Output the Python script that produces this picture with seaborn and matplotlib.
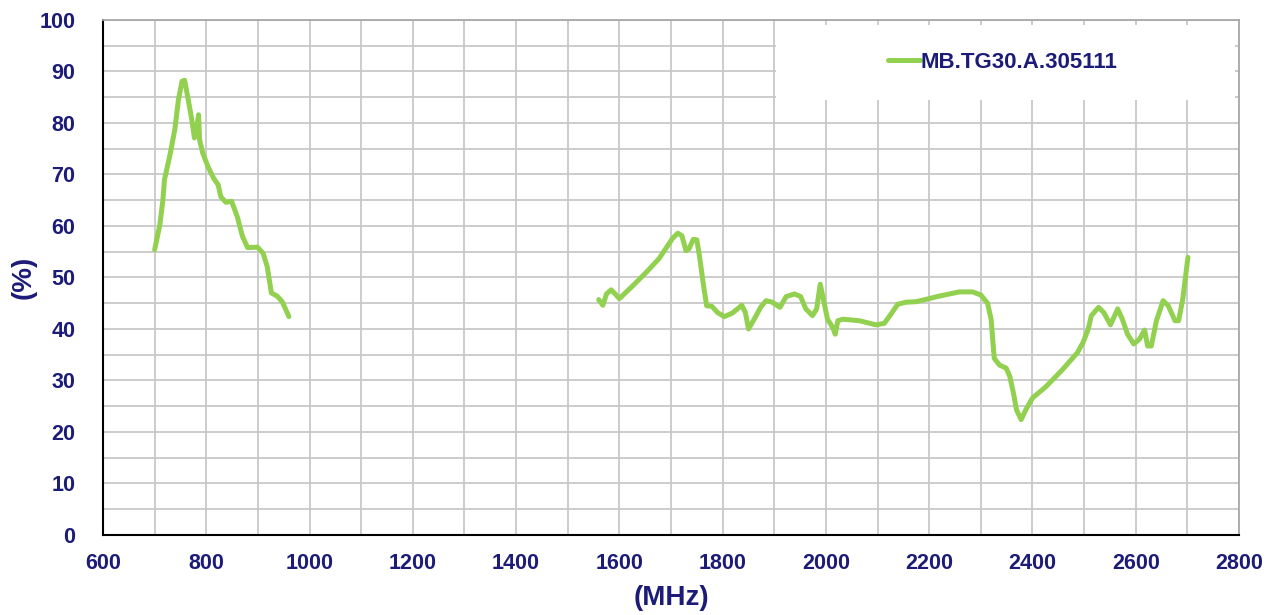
import matplotlib
matplotlib.use("Agg")
import matplotlib.pyplot as plt
import seaborn as sns
import pandas as pd
from matplotlib.patches import Rectangle
from matplotlib.ticker import MultipleLocator

# ---- data ----
freq_low = [700, 710, 716, 719, 729, 739, 746, 753, 758, 764, 772, 777, 782, 785,
            787, 793, 803, 814, 823, 828, 838, 849, 860, 870, 880, 899, 910, 918,
            926, 937, 947, 960]
eff_low = [55.4, 60.2, 65.1, 69.0, 73.5, 78.7, 84.5, 88.1, 88.3, 85.1, 80.6, 77.1,
           79.3, 81.6, 76.7, 74.2, 71.6, 69.3, 68.0, 65.7, 64.6, 64.8, 61.8, 58.0,
           55.8, 55.9, 54.7, 52.1, 47.0, 46.4, 45.3, 42.4]

freq_high = [1560, 1568, 1575, 1584, 1590, 1600, 1626, 1652, 1677, 1703, 1713, 1721,
             1729, 1735, 1743, 1750, 1755, 1763, 1769, 1779, 1790, 1803, 1819, 1837,
             1844, 1850, 1861, 1874, 1884, 1896, 1911, 1923, 1939, 1951, 1961, 1974,
             1982, 1989, 1995, 2003, 2013, 2018, 2023, 2033, 2065, 2097, 2113, 2126,
             2139, 2155, 2175, 2220, 2258, 2284, 2300, 2313, 2320, 2323, 2326, 2336,
             2349, 2356, 2363, 2369, 2378, 2387, 2400, 2426, 2458, 2487, 2498, 2508,
             2514, 2528, 2538, 2551, 2565, 2574, 2584, 2596, 2607, 2617, 2623, 2630,
             2640, 2653, 2663, 2676, 2683, 2691, 2701]
eff_high = [45.7, 44.6, 46.8, 47.6, 47.0, 45.9, 48.4, 51.0, 53.7, 57.6, 58.6, 58.1,
            55.2, 55.6, 57.4, 57.3, 54.2, 48.4, 44.5, 44.4, 43.2, 42.4, 43.1, 44.6,
            43.2, 40.0, 41.9, 44.3, 45.5, 45.2, 44.2, 46.3, 46.8, 46.3, 43.9, 42.6,
            43.9, 48.7, 45.8, 41.9, 40.3, 39.0, 41.6, 41.9, 41.6, 40.8, 41.1, 42.9,
            44.8, 45.2, 45.3, 46.4, 47.2, 47.2, 46.6, 45.0, 41.8, 37.9, 34.3, 33.0,
            32.4, 30.8, 27.6, 24.3, 22.4, 24.3, 26.6, 28.8, 32.1, 35.4, 37.4, 40.0,
            42.6, 44.2, 43.2, 40.8, 43.9, 41.9, 39.0, 37.1, 38.0, 39.8, 36.7, 36.7,
            41.6, 45.5, 44.5, 41.6, 41.6, 45.8, 53.9]

series_name = "MB.TG30.A.305111"
x_label = "(MHz)"
y_label = "(%)"

# ---- style ----
sns.set_style("white")
plt.rcParams['font.family'] = ['Liberation Sans', 'DejaVu Sans']

navy = "#1c1c78"
green = "#92D050"

fig = plt.figure(figsize=(12.75, 6.15), dpi=100)
ax = fig.add_axes([0.0808, 0.1301, 0.8910, 0.8374])

df_low = pd.DataFrame({"f": freq_low, "e": eff_low})
df_high = pd.DataFrame({"f": freq_high, "e": eff_high})

line_kw = dict(color=green, lw=3.6, sort=False, solid_joinstyle="round",
               solid_capstyle="round")
sns.lineplot(data=df_low, x="f", y="e", ax=ax, label=series_name, **line_kw)
sns.lineplot(data=df_high, x="f", y="e", ax=ax, legend=False, **line_kw)

ax.set_xlim(600, 2800)
ax.set_ylim(0, 100)
ax.xaxis.set_major_locator(MultipleLocator(200))
ax.xaxis.set_minor_locator(MultipleLocator(100))
ax.yaxis.set_major_locator(MultipleLocator(10))
ax.yaxis.set_minor_locator(MultipleLocator(5))

ax.grid(True, which="both", color="#c8c8c8", lw=1.3)
ax.set_axisbelow(True)

for s in ["left", "bottom"]:
    ax.spines[s].set_color("black")
    ax.spines[s].set_linewidth(1.5)
for s in ["top", "right"]:
    ax.spines[s].set_color("#a8a8a8")
    ax.spines[s].set_linewidth(1.3)

ax.tick_params(axis="both", which="major", direction="in", length=5, width=1.3,
               color="black", labelsize=15.5, labelcolor=navy)
ax.tick_params(axis="y", which="major", pad=20)
ax.tick_params(axis="x", which="major", pad=13)
ax.tick_params(axis="both", which="minor", length=0)
ax.tick_params(top=False, right=False)
for lab in ax.get_xticklabels() + ax.get_yticklabels():
    lab.set_fontweight("bold")

ax.set_xlabel(x_label, fontsize=20, fontweight="bold", color=navy, labelpad=8)
ax.set_ylabel(y_label, fontsize=20, fontweight="bold", color=navy, labelpad=2)

# legend box
rect = Rectangle((0.592, 0.845), 0.404, 0.145, transform=ax.transAxes,
                 facecolor="white", edgecolor="none", zorder=3)
ax.add_patch(rect)
leg = ax.legend(loc="center", bbox_to_anchor=(0.792, 0.917), frameon=False,
                handlelength=1.45, handletextpad=0.05,
                prop={"size": 16, "weight": "bold"})
for t in leg.get_texts():
    t.set_color(navy)
leg.set_zorder(4)

fig.savefig("out.png", dpi=100)
